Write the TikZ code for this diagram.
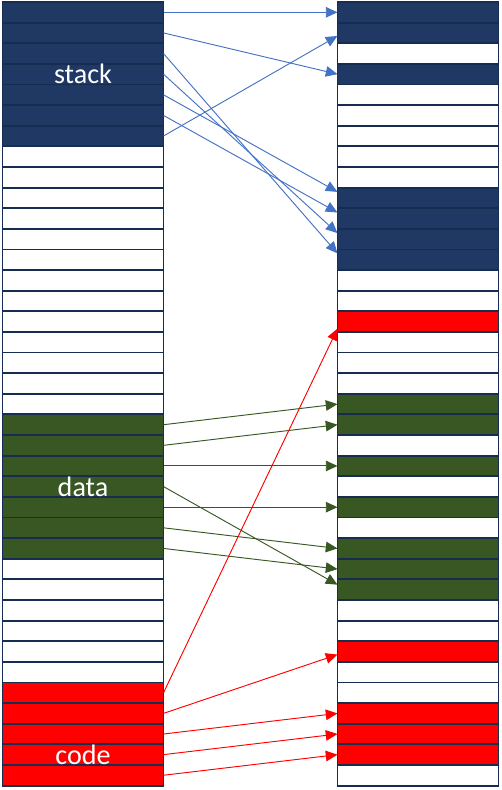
\documentclass[tikz,border=0pt]{standalone}
\usepackage{fontspec}
\setsansfont{Carlito}
\usepackage{xcolor}
\usepackage{tikz}
\usetikzlibrary{arrows.meta, positioning}
\definecolor{memnavy}{RGB}{32,56,100}
\definecolor{memgreen}{RGB}{56,87,35}
\definecolor{memred}{RGB}{255,0,0}
\definecolor{memedge}{RGB}{23,44,81}
\definecolor{memsky}{RGB}{68,114,196}
\tikzset{
  cell/.style={
    rectangle, minimum width=4.83cm, minimum height=0.6186cm,
    inner sep=0pt, outer sep=0pt, draw=memedge, line width=1.6pt, fill=white
  },
  stackcell/.style={cell, fill=memnavy},
  datacell/.style={cell, fill=memgreen},
  codecell/.style={cell, fill=memred},
  segname/.style={
    inner sep=0pt, font=\sffamily\fontsize{24}{28}\selectfont, text=white
  },
  arrowblue/.style={-{Triangle[length=10pt,width=9pt]}, line width=0.8pt, color=memsky},
  arrowgreen/.style={-{Triangle[length=10pt,width=9pt]}, line width=0.8pt, color=memgreen},
  arrowred/.style={-{Triangle[length=10pt,width=9pt]}, line width=0.8pt, color=memred}
}

\begin{document}
\begin{tikzpicture}[x=0.03cm, y=-0.03cm]
  \useasboundingbox (0,0) rectangle (501,790);

  \foreach \i in {0,...,6} \node[stackcell] (virt\i) at (83,{2+20.62*(\i+0.5)}) {};
  \foreach \i in {7,...,19} \node[cell] (virt\i) at (83,{2+20.62*(\i+0.5)}) {};
  \foreach \i in {20,...,26} \node[datacell] (virt\i) at (83,{2+20.62*(\i+0.5)}) {};
  \foreach \i in {27,...,32} \node[cell] (virt\i) at (83,{2+20.62*(\i+0.5)}) {};
  \foreach \i in {33,...,37} \node[codecell] (virt\i) at (83,{2+20.62*(\i+0.5)}) {};

  \foreach \i/\k in {0/stackcell,1/stackcell,2/cell,3/stackcell,4/cell,5/cell,6/cell,
      7/cell,8/cell,9/stackcell,10/stackcell,11/stackcell,12/stackcell,13/cell,
      14/cell,15/codecell,16/cell,17/cell,18/cell,19/datacell,20/datacell,21/cell,
      22/datacell,23/cell,24/datacell,25/cell,26/datacell,27/datacell,28/datacell,
      29/cell,30/cell,31/codecell,32/cell,33/cell,34/codecell,35/codecell,
      36/codecell,37/cell}
    \node[\k] (phys\i) at (418,{2+20.62*(\i+0.5)}) {};

  \node[segname] (stackname) at (virt3) {stack};
  \node[segname] (dataname) at (virt23) {data};
  \node[segname] (codename) at (virt36) {code};

  \draw[arrowblue] (virt0.east) -- (phys0.west);
  \draw[arrowblue] (virt1.east) -- (phys3.west);
  \draw[arrowblue] (virt2.east) -- ([yshift=0.19cm]phys12.west);
  \draw[arrowblue] (virt3.east) -- ([yshift=0.18cm]phys11.west);
  \draw[arrowblue] (virt4.east) -- ([yshift=0.18cm]phys9.west);
  \draw[arrowblue] (virt5.east) -- ([yshift=0.18cm]phys10.west);
  \draw[arrowblue] (virt6.east) -- ([yshift=-0.09cm]phys1.west);

  \draw[arrowgreen] (virt20.east) -- (phys19.west);
  \draw[arrowgreen] (virt21.east) -- (phys20.west);
  \draw[arrowgreen] (virt22.east) -- (phys22.west);
  \draw[arrowgreen] (virt23.east) -- ([yshift=0.15cm]phys28.west);
  \draw[arrowgreen] (virt24.east) -- (phys24.west);
  \draw[arrowgreen] (virt25.east) -- (phys26.west);
  \draw[arrowgreen] (virt26.east) -- (phys27.west);

  \draw[arrowred] (virt33.east) -- ([yshift=-0.21cm]phys15.west);
  \draw[arrowred] (virt34.east) -- ([yshift=-0.09cm]phys31.west);
  \draw[arrowred] (virt35.east) -- (phys34.west);
  \draw[arrowred] (virt36.east) -- (phys35.west);
  \draw[arrowred] (virt37.east) -- (phys36.west);
\end{tikzpicture}
\end{document}
